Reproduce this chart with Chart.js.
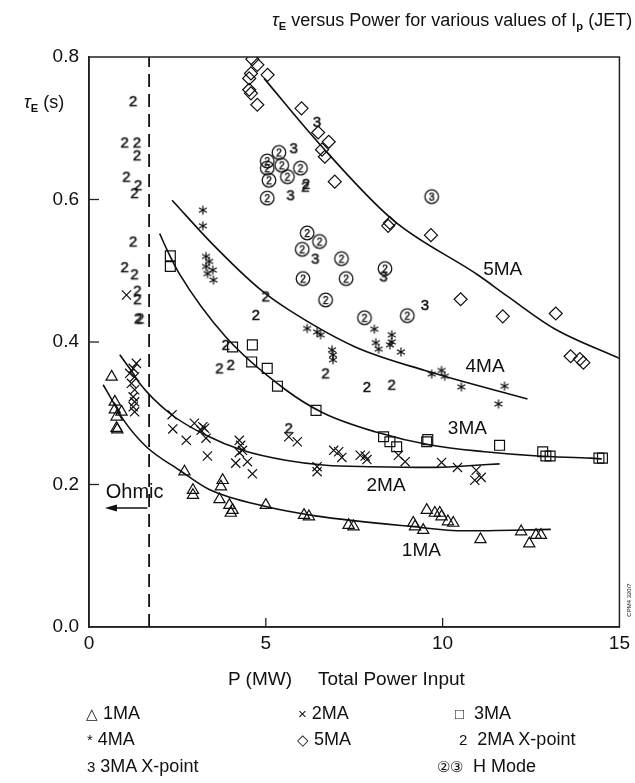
<!DOCTYPE html>
<html><head><meta charset="utf-8">
<script src="https://cdn.jsdelivr.net/npm/chart.js@4.4.0/dist/chart.umd.min.js"></script>
<style>
html,body{margin:0;padding:0;background:#fff;}
#wrap{position:relative;width:635px;height:783px;overflow:hidden;font-family:"Liberation Sans",Arial,sans-serif;color:#111;}
canvas{position:absolute;left:0;top:0;}
.t{position:absolute;white-space:pre;line-height:1;}
.t sub{font-size:0.62em;vertical-align:-0.4em;font-weight:bold;line-height:0;}
.s{font-size:15px;}
</style></head><body>
<div id="wrap">
<canvas id="c" width="635" height="783"></canvas>
<div class="t" style="left:272px;top:11px;font-size:18px;"><i>τ</i><sub>E</sub> versus Power for various values of I<sub>p</sub> (JET)</div>
<div class="t" style="left:24px;top:93px;font-size:18px;"><i>τ</i><sub>E</sub> (s)</div>
<div class="t" style="left:228px;top:669px;font-size:19px;">P (MW)</div>
<div class="t" style="left:318px;top:669px;font-size:19px;">Total Power Input</div>

<div class="t" style="left:86px;top:704px;font-size:18px;"><span class="s">△</span> 1MA</div>
<div class="t" style="left:298px;top:704px;font-size:18px;"><span class="s">×</span> 2MA</div>
<div class="t" style="left:455px;top:704px;font-size:18px;"><span class="s">□</span>  3MA</div>
<div class="t" style="left:87px;top:730px;font-size:18px;"><span class="s">*</span> 4MA</div>
<div class="t" style="left:297px;top:730px;font-size:18px;"><span class="s">◇</span> 5MA</div>
<div class="t" style="left:459px;top:730px;font-size:18px;"><span class="s">2</span>  2MA X-point</div>
<div class="t" style="left:87px;top:757px;font-size:18px;"><span class="s">3</span> 3MA X-point</div>
<div class="t" style="left:437px;top:757px;font-size:18px;"><span class="s">②③</span>  H Mode</div>
</div>
<script>
// ---------------- data (P in MW, tauE in s) ----------------
const xTickValues = [0, 5, 10, 15];
const yTickValues = [0, 0.2, 0.4, 0.6, 0.8];

const pts1MA = [[0.64,0.351],[0.73,0.316],[0.73,0.305],[0.92,0.302],[0.78,0.295],[0.78,0.279],[0.80,0.277],
 [2.70,0.218],[2.94,0.192],[2.94,0.185],[3.78,0.206],[3.73,0.197],[3.69,0.179],[3.97,0.171],[4.06,0.164],[4.01,0.160],
 [5.00,0.171],[6.08,0.157],[6.22,0.155],[7.34,0.143],[7.48,0.141],[9.17,0.146],[9.22,0.141],[9.45,0.136],
 [9.55,0.164],[9.78,0.160],[9.92,0.160],[9.97,0.155],[10.15,0.148],[10.30,0.146],[11.07,0.123],
 [12.22,0.134],[12.45,0.117],[12.64,0.129],[12.78,0.129]];

const pts2MA = [[1.34,0.370],[1.25,0.363],[1.15,0.356],[1.29,0.351],[1.20,0.342],[1.29,0.333],[1.25,0.323],[1.29,0.316],
 [1.25,0.309],[1.29,0.302],[1.06,0.466],[2.35,0.298],[2.37,0.278],[2.75,0.262],[2.98,0.286],[3.22,0.281],[3.27,0.279],
 [3.17,0.276],[3.31,0.265],[3.35,0.240],[4.25,0.262],[4.29,0.255],[4.34,0.248],[4.25,0.245],[4.15,0.230],[4.48,0.232],
 [4.62,0.215],[5.65,0.267],[5.89,0.260],[6.45,0.225],[6.45,0.218],[6.92,0.248],[7.06,0.246],[7.15,0.238],[7.67,0.241],
 [7.81,0.240],[7.86,0.235],[8.75,0.241],[8.94,0.232],[9.97,0.231],[10.42,0.224],[10.95,0.220],[11.09,0.210],[10.91,0.206]];

const pts3MA = [[2.30,0.521],[2.30,0.506],[4.06,0.393],[4.62,0.396],[4.60,0.372],[5.04,0.363],[5.33,0.338],[6.42,0.304],
 [8.33,0.267],[8.51,0.260],[8.70,0.253],[9.55,0.260],[9.58,0.263],[11.61,0.255],[12.83,0.246],[12.92,0.240],[13.04,0.240],
 [14.42,0.237],[14.52,0.237]];

const pts4MA = [[3.22,0.585],[3.22,0.563],[3.31,0.520],[3.40,0.513],[3.31,0.506],[3.50,0.501],[3.35,0.496],[3.52,0.487],
 [6.17,0.419],[6.45,0.414],[6.55,0.410],[6.87,0.389],[6.90,0.382],[6.90,0.375],[8.07,0.418],[8.11,0.399],[8.19,0.390],
 [8.56,0.410],[8.56,0.400],[8.51,0.396],[8.82,0.386],[9.69,0.355],[9.97,0.360],[10.06,0.352],[10.53,0.337],[11.75,0.338],[11.58,0.313]];

const pts5MA = [[4.62,0.797],[4.76,0.789],[4.58,0.777],[5.05,0.775],[4.53,0.770],[4.53,0.754],[4.58,0.749],[4.76,0.733],
 [6.01,0.728],[6.48,0.694],[6.78,0.681],[6.59,0.670],[6.67,0.660],[6.95,0.625],[8.51,0.567],[8.46,0.563],[9.67,0.550],
 [10.51,0.460],[11.70,0.436],[13.20,0.440],[13.62,0.380],[13.88,0.376],[13.98,0.371]];

const ptsXp2MA = [[1.25,0.738],[1.01,0.680],[1.36,0.680],[1.36,0.662],[1.06,0.632],[1.39,0.620],[1.29,0.609],[1.25,0.541],
 [1.01,0.505],[1.29,0.495],[1.37,0.472],[1.37,0.460],[1.39,0.433],[1.45,0.433],[5.00,0.464],[4.72,0.438],[3.87,0.396],
 [3.69,0.363],[4.01,0.368],[5.65,0.279],[6.69,0.356],[7.86,0.337],[8.56,0.340],[6.12,0.618],[6.14,0.622]];

const ptsXp3MA = [[6.45,0.709],[5.79,0.672],[5.70,0.606],[6.40,0.517],[8.33,0.492],[9.50,0.452]];

const ptsH2 = [[5.37,0.666],[5.04,0.654],[5.45,0.648],[5.04,0.644],[5.98,0.644],[5.09,0.627],[5.61,0.632],[5.04,0.602],
 [6.17,0.553],[6.52,0.541],[6.03,0.530],[7.14,0.517],[6.05,0.489],[7.27,0.489],[8.37,0.503],[6.69,0.459],[7.79,0.434],[9.00,0.437]];
const ptsH3 = [[9.69,0.604]];

// fitted curves
const fit1MA = [[0.40,0.340],[0.68,0.316],[0.97,0.291],[1.62,0.253],[2.56,0.220],[3.40,0.193],[5.00,0.169],[6.40,0.156],[9.12,0.141],[10.62,0.135],[13.06,0.137]];
const fit2MA = [[0.87,0.382],[1.25,0.356],[1.43,0.342],[2.28,0.300],[3.31,0.269],[4.34,0.248],[5.56,0.234],[6.69,0.227],[8.00,0.225],[9.69,0.224],[10.62,0.226],[11.61,0.229]];
const fit3MA = [[2.00,0.552],[2.20,0.530],[2.54,0.497],[3.87,0.407],[5.56,0.333],[6.64,0.300],[8.09,0.274],[9.69,0.255],[11.19,0.246],[12.69,0.240],[14.19,0.237],[14.50,0.236]];
const fit4MA = [[2.35,0.599],[3.50,0.537],[4.86,0.473],[5.65,0.445],[7.53,0.393],[9.50,0.360],[12.40,0.320]];
const fit5MA = [[4.95,0.770],[6.50,0.679],[8.60,0.571],[11.00,0.494],[11.84,0.464],[13.15,0.419],[15.00,0.377]];

const ohmicBoundary = [[1.70,0.0],[1.70,0.8]];

const curveLabelText = ['5MA','4MA','3MA','2MA','1MA'];
const curveLabelX = [11.7, 11.2, 10.7, 8.4, 9.4];
const curveLabelY = [0.501, 0.365, 0.278, 0.198, 0.107];
const ohmicLabel = {text:'Ohmic', x:1.29, y:0.189, arrowFrom:1.65, arrowTo:0.45, arrowY:0.167};

// ---------------- marker glyphs ----------------
const INK = '#101010';
function glyph(txt, circled){
  const s = 18;
  const c = document.createElement('canvas'); c.width = s; c.height = s;
  const g = c.getContext('2d');
  g.fillStyle = INK; g.strokeStyle = INK; g.lineWidth = 1.25;
  if (circled){ g.beginPath(); g.arc(s/2, s/2, 6.8, 0, Math.PI*2); g.stroke(); }
  g.font = (circled ? '10px' : '15px') + ' "Liberation Sans", Arial, sans-serif';
  g.textAlign = 'center'; g.textBaseline = 'middle';
  g.lineWidth = 0.45;
  g.fillText(txt, s/2, s/2 + 1);
  g.strokeText(txt, s/2, s/2 + 1);
  return c;
}
function asterisk(){
  const s = 12;
  const c = document.createElement('canvas'); c.width = s; c.height = s;
  const g = c.getContext('2d');
  g.strokeStyle = INK; g.lineWidth = 1.2; g.beginPath();
  for (const a of [90, 30, 150]){
    const r = 4.6, t = a*Math.PI/180;
    g.moveTo(s/2 - Math.cos(t)*r, s/2 - Math.sin(t)*r);
    g.lineTo(s/2 + Math.cos(t)*r, s/2 + Math.sin(t)*r);
  }
  g.stroke();
  return c;
}
const toXY = arr => arr.map(p => ({x:p[0], y:p[1]}));

function pointSet(label, arr, style, radius){
  return {label, data: toXY(arr), showLine:false, pointStyle: style, pointRadius: radius,
    pointBorderColor: INK, pointBackgroundColor: 'rgba(0,0,0,0)', pointBorderWidth: 1.2};
}
function curveSet(label, arr, extra){
  return Object.assign({label, data: toXY(arr), showLine:true, pointRadius:0, borderColor: INK,
    borderWidth:1.6, cubicInterpolationMode:'monotone', fill:false}, extra||{});
}

const decor = {
  id:'decor',
  afterDraw(chart){
    const {ctx, chartArea:a, scales:{x, y}} = chart;
    ctx.save();
    ctx.strokeStyle = '#222'; ctx.lineWidth = 1.5;
    ctx.strokeRect(a.left, a.top, a.right - a.left, a.bottom - a.top);
    ctx.lineWidth = 1.3;
    xTickValues.slice(1, -1).forEach(v => { const px = x.getPixelForValue(v);
      ctx.beginPath(); ctx.moveTo(px, a.bottom); ctx.lineTo(px, a.bottom - 9); ctx.stroke(); });
    yTickValues.slice(1, -1).forEach(v => { const py = y.getPixelForValue(v);
      ctx.beginPath(); ctx.moveTo(a.left, py); ctx.lineTo(a.left + 10, py); ctx.stroke(); });
    ctx.fillStyle = INK;
    ctx.font = '19px "Liberation Sans", Arial, sans-serif';
    ctx.textAlign = 'center'; ctx.textBaseline = 'middle';
    curveLabelText.forEach((t, i) => ctx.fillText(t, x.getPixelForValue(curveLabelX[i]), y.getPixelForValue(curveLabelY[i])));
    ctx.font = '20px "Liberation Sans", Arial, sans-serif';
    ctx.fillText(ohmicLabel.text, x.getPixelForValue(ohmicLabel.x), y.getPixelForValue(ohmicLabel.y));
    // arrow
    const ax1 = x.getPixelForValue(ohmicLabel.arrowFrom), ax0 = x.getPixelForValue(ohmicLabel.arrowTo), ay = y.getPixelForValue(ohmicLabel.arrowY);
    ctx.strokeStyle = INK; ctx.lineWidth = 1.5;
    ctx.beginPath(); ctx.moveTo(ax1, ay); ctx.lineTo(ax0 + 8, ay); ctx.stroke();
    ctx.beginPath(); ctx.moveTo(ax0, ay); ctx.lineTo(ax0 + 12, ay - 3.5); ctx.lineTo(ax0 + 12, ay + 3.5); ctx.closePath(); ctx.fill();
    // small side note
    ctx.save();
    ctx.translate(629, 600); ctx.rotate(-Math.PI/2);
    ctx.font = '6px "Liberation Sans", Arial, sans-serif';
    ctx.fillText('CPM4 320/7', 0, 0);
    ctx.restore();
    ctx.restore();
  }
};

const chart = new Chart(document.getElementById('c'), {
  type:'scatter',
  data:{ datasets:[
    curveSet('1MA fit', fit1MA), curveSet('2MA fit', fit2MA), curveSet('3MA fit', fit3MA),
    curveSet('4MA fit', fit4MA), curveSet('5MA fit', fit5MA),
    curveSet('Ohmic limit', ohmicBoundary, {borderDash:[13,7], borderWidth:1.8, cubicInterpolationMode:'default'}),
    pointSet('1MA', pts1MA, 'triangle', 6.5),
    pointSet('2MA', pts2MA, 'crossRot', 6.5),
    pointSet('3MA', pts3MA, 'rect', 7),
    pointSet('4MA', pts4MA, asterisk(), 5),
    pointSet('5MA', pts5MA, 'rectRot', 6.5),
    pointSet('2MA X-point', ptsXp2MA, glyph('2', false), 5),
    pointSet('3MA X-point', ptsXp3MA, glyph('3', false), 5),
    pointSet('H Mode (2MA)', ptsH2, glyph('2', true), 5),
    pointSet('H Mode (3MA)', ptsH3, glyph('3', true), 5)
  ]},
  options:{
    responsive:false, animation:false, devicePixelRatio:1,
    layout:{padding:{left:39, right:13, top:57, bottom:116}},
    plugins:{legend:{display:false}, tooltip:{enabled:false}, title:{display:false}},
    scales:{
      x:{type:'linear', min:0, max:15,
        afterFit(s){ s.height = 40; },
        afterBuildTicks(s){ s.ticks = xTickValues.map(v => ({value:v})); },
        ticks:{color:INK, font:{family:'"Liberation Sans", Arial, sans-serif', size:19}, padding:5, maxRotation:0},
        grid:{display:true, drawOnChartArea:false, drawTicks:false},
        border:{display:true, color:'#222', width:1.5}},
      y:{type:'linear', min:0, max:0.8,
        afterFit(s){ s.width = 50; },
        afterBuildTicks(s){ s.ticks = yTickValues.map(v => ({value:v})); },
        ticks:{color:INK, font:{family:'"Liberation Sans", Arial, sans-serif', size:19}, padding:10,
          callback:v => Number(v).toFixed(1)},
        grid:{display:true, drawOnChartArea:false, drawTicks:false},
        border:{display:true, color:'#222', width:1.5}}
    }
  },
  plugins:[decor]
});
</script>
</body></html>
